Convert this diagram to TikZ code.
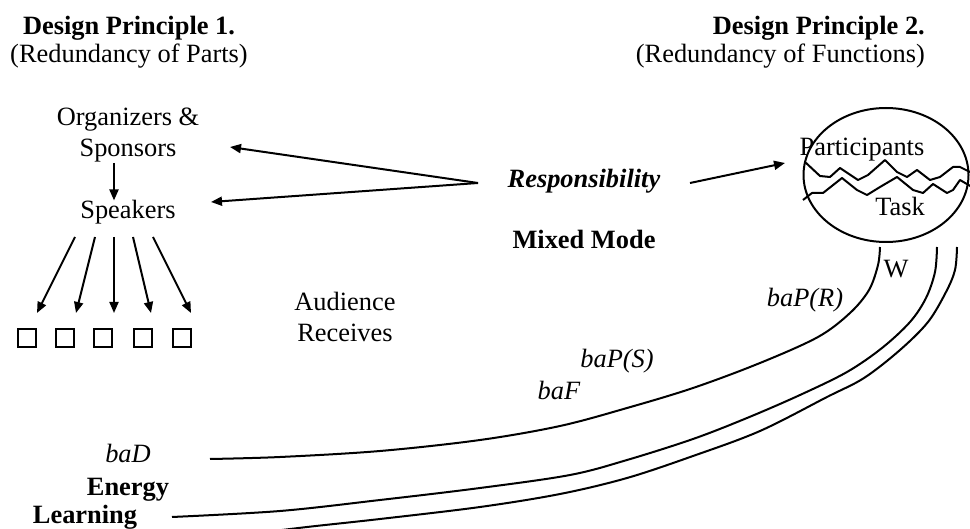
\documentclass[tikz,border=0pt]{standalone}
\usepackage{fontspec}
\setmainfont{Liberation Serif}
\usetikzlibrary{arrows.meta,calc,shapes.geometric}
\begin{document}
\begin{tikzpicture}[x=1pt,y=-1pt,
  every node/.style={inner sep=0pt,anchor=base,font=\fontsize{26.4}{30.4}\selectfont},
  arr/.style={line width=2pt,-{Triangle[length=11pt,width=9pt]}},
  sq/.style={draw,line width=2pt,minimum width=18pt,minimum height=18pt,anchor=center}]
\useasboundingbox (0,0) rectangle (970,529);

% headers
\node (dp1) at (129,34.5) {\textbf{Design Principle 1.}};
\node (dp1s) at (129,62.5) {(Redundancy of Parts)};
\node[anchor=base east] (dp2) at (925,34.5) {\textbf{Design Principle 2.}};
\node[anchor=base east] (dp2s) at (925,62.5) {(Redundancy of Functions)};

% left column
\node (org) at (128,126) {Organizers \&};
\node (spo) at (128,157) {Sponsors};
\node (spk) at (128,219) {Speakers};
\foreach \i/\x in {1/27,2/65,3/103,4/143,5/182}{
  \node[sq] (sq\i) at (\x,338) {};
}
\coordinate (s1) at (75,237);  \coordinate (e1) at (37,313);
\coordinate (s2) at (95,237);  \coordinate (e2) at (76,313);
\coordinate (s3) at (114,237); \coordinate (e3) at (114,313);
\coordinate (s4) at (133,237); \coordinate (e4) at (151,313);
\coordinate (s5) at (153,237); \coordinate (e5) at (191,313);
\foreach \i in {1,...,5}{ \draw[arr] (s\i) -- (e\i); }
\draw[arr] ([xshift=-14pt]spo.south) -- ([xshift=-14pt]spk.north);

% middle texts
\node (aud) at (345,311) {Audience};
\node (rec) at (345,342) {Receives};
\node (resp) at (584,188) {\textbf{\textit{Responsibility}}};
\node (mm) at (584,249) {\textbf{Mixed Mode}};

% responsibility arrows
\coordinate (conv) at (478,183);
\coordinate (tipA) at (230,147);
\coordinate (tipB) at (211,202);
\draw[arr] (conv) -- (tipA);
\draw[arr] (conv) -- (tipB);
\coordinate (rstart) at (690,183);
\coordinate (rtip) at (785,163);
\draw[arr] (rstart) -- (rtip);

% ellipse with participants / task
\node[draw,ellipse,line width=2pt,minimum width=165pt,minimum height=134pt,anchor=center] (ell) at (886,175) {};
\node (part) at (862,155.5) {Participants};
\node (task) at (900,216) {Task};
\draw[line width=2pt,line join=round]
  (805,162) -- (820,176) -- (830,177) -- (840,168) -- (858,180) -- (868,175) -- (885,160)
  -- (897,172) -- (907,177) -- (917,170) -- (930,180) -- (940,177) -- (953,167) -- (960,167) -- (972,173);
\draw[line width=2pt,line join=round]
  (803,200) -- (812,193) -- (823,193) -- (842,178) -- (857,190) -- (867,195) -- (880,187)
  -- (897,177) -- (913,190) -- (923,193) -- (933,184) -- (947,193) -- (953,190) -- (960,180) -- (972,187);

% labels on curves
\node (w) at (896,278) {W};
\node (bapr) at (805,307) {\textit{baP(R)}};
\node (baps) at (617,368) {\textit{baP(S)}};
\node (baf) at (559,400) {\textit{baF}};
\node (bad) at (128,463) {\textit{baD}};
\node (energy) at (128,495) {\textbf{Energy}};
\node (learn) at (85,523) {\textbf{Learning}};

% curves
\coordinate (c1a) at (880,247); \coordinate (c1b) at (210,459);
\coordinate (c2a) at (937,247); \coordinate (c2b) at (172,517);
\coordinate (c3a) at (957,247); \coordinate (c3b) at (250,534);
\draw[line width=2pt] plot[smooth,tension=0.55] coordinates {(c1a) (878,265) (869,290) (850,313) (818,337) (760,363) (693,388) (627,408) (560,426) (480,440) (380,451) (280,457) (c1b)};
\draw[line width=2pt] plot[smooth,tension=0.55] coordinates {(c2a) (935,272) (926,298) (910,322) (882,348) (847,372) (800,395) (747,418) (693,439) (627,460) (570,475) (480,488) (380,500) (280,511) (c2b)};
\draw[line width=2pt] plot[smooth,tension=0.55] coordinates {(c3a) (955,270) (946,292) (928,322) (900,350) (864,378) (827,397) (760,431) (693,456) (627,478) (560,494) (480,507) (380,519) (307,527) (c3b)};
\end{tikzpicture}
\end{document}
